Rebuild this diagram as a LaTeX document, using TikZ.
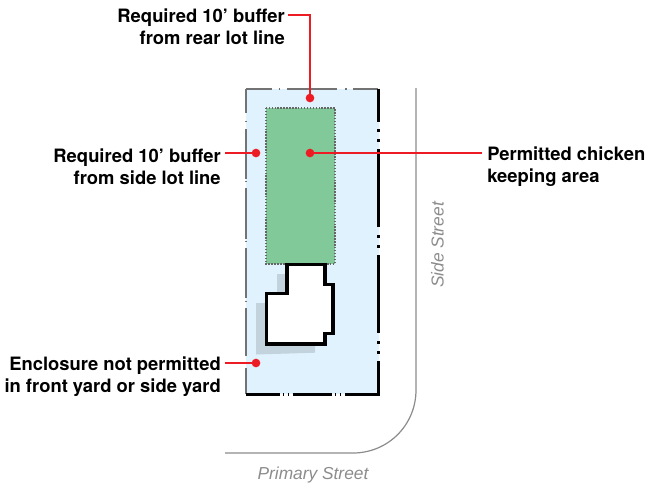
\documentclass[tikz,border=0pt]{standalone}
\usepackage{fontspec}
\setmainfont{TeX Gyre Heros}
\newfontfamily\streetfont{Liberation Sans}
\definecolor{lotblue}{HTML}{E0F2FD}
\definecolor{keepgreen}{HTML}{82C99A}
\definecolor{shadowgray}{HTML}{C3D3DD}
\definecolor{callred}{HTML}{ED1C24}
\definecolor{roadgray}{HTML}{8C8C8C}
\tikzset{
  x=0.75pt,y=-0.75pt,
  calloutline/.style={draw=callred,line width=1.5pt},
  calltext/.style={font=\bfseries\fontsize{13.8}{16.5}\selectfont,align=right,inner sep=0pt},
  leftlabel/.style={calltext,anchor=east,align=right},
  dotmark/.style={circle,fill=callred,minimum size=6.5pt,inner sep=0pt},
  streetlabel/.style={font=\streetfont\itshape\fontsize{13}{15}\selectfont,text=roadgray,inner sep=0pt},
  lotblack/.style={draw=black,line width=2.2pt},
  lotthin/.style={draw=black!55,line width=0.9pt},
  gapfill/.style={fill=white,draw=none},
}
\begin{document}
\begin{tikzpicture}
\useasboundingbox (0,0) rectangle (651,487);
% lot
\fill[lotblue] (246,89) rectangle (378.5,394);
% top edge, with its gaps and ticks
\draw[lotthin] (246,89) -- (272,89);
\draw[lotthin] (278.5,89) -- (280,89);
\draw[lotthin] (287,89) -- (337,89);
\draw[lotthin] (345,89) -- (346.5,89);
\draw[lotthin] (353,89) -- (378,89);
% left edge, with its gaps and ticks
\draw[lotthin] (246,88.5) -- (246,113);
\draw[lotthin] (246,120.5) -- (246,122);
\draw[lotthin] (246,129) -- (246,179);
\draw[lotthin] (246,180.5) -- (246,182);
\draw[lotthin] (246,188) -- (246,239);
\draw[lotthin] (246,240.5) -- (246,242);
\draw[lotthin] (246,248) -- (246,298);
\draw[lotthin] (246,300.5) -- (246,302);
\draw[lotthin] (246,308) -- (246,356);
\draw[lotthin] (246,368) -- (246,394);
% right and bottom edges
\draw[lotblack] (378.5,88.5) -- (378.5,122);
\draw[lotblack] (378.5,129) -- (378.5,132);
\draw[lotblack] (378.5,139) -- (378.5,142);
\draw[lotblack] (378.5,149) -- (378.5,227);
\draw[lotblack] (378.5,235) -- (378.5,238);
\draw[lotblack] (378.5,245) -- (378.5,248);
\draw[lotblack] (378.5,255) -- (378.5,333);
\draw[lotblack] (378.5,341) -- (378.5,344);
\draw[lotblack] (378.5,351) -- (378.5,354);
\draw[lotblack] (378.5,361) -- (378.5,395);
\draw[lotblack] (246,394.5) -- (279.5,394.5);
\draw[lotblack] (283,394.5) -- (284,394.5);
\draw[lotblack] (288,394.5) -- (289,394.5);
\draw[lotblack] (292.5,394.5) -- (332,394.5);
\draw[lotblack] (335,394.5) -- (336,394.5);
\draw[lotblack] (340,394.5) -- (341,394.5);
\draw[lotblack] (345,394.5) -- (380,394.5);
% keeping area
\fill[keepgreen] (266,108) rectangle (335,264);
\draw[draw=black!60,line width=1.1pt,dash pattern=on 1.1pt off 1.1pt] (266,108) rectangle (335,264);
% road
\draw[roadgray,line width=0.9pt] (416,88) -- (416,390) .. controls (416,425) and (388,453) .. (353,453) -- (225,453);
% shadow
\fill[shadowgray] (277,274) -- (287,274) -- (287,303) -- (315,303) -- (315,352.7) -- (256,354.5) -- (256,303) -- (277,303) -- cycle;
% house
\draw[draw=black,fill=white,line width=2.3pt,miter limit=4] (287,264.5) -- (325,264.5) -- (325,284.5) -- (333,284.5) -- (333,333.5) -- (325,333.5) -- (325,344) -- (266.5,344) -- (266.5,293.5) -- (287,293.5) -- cycle;
% callouts
\node[dotmark] (rearDot) at (310,98) {};
\node[dotmark] (sideDot) at (256,153) {};
\node[dotmark] (areaDot) at (310,153) {};
\node[dotmark] (yardDot) at (256,363) {};
\node[leftlabel] (rearText) at (285,27) {Required 10’ buffer\\from rear lot line};
\node[leftlabel] (sideText) at (221,167) {Required 10’ buffer\\from side lot line};
\node[leftlabel] (yardText) at (221,376.5) {Enclosure not permitted\\in front yard or side yard};
\node[calltext,anchor=west,align=left] (areaText) at (487,167) {Permitted chicken\\keeping area};
\coordinate (rearElbow) at (310,15);
\coordinate (rearStart) at (288,15);
\coordinate (sideStart) at (225,153);
\coordinate (yardStart) at (225,363);
\coordinate (areaEnd) at (482,153);
\draw[calloutline] (rearStart) -- (rearElbow) -- (rearDot.center);
\draw[calloutline] (sideStart) -- (sideDot.center);
\draw[calloutline] (yardStart) -- (yardDot.center);
\draw[calloutline] (areaDot.center) -- (areaEnd);
% streets
\node[streetlabel,rotate=90] (side) at (437.5,245) {Side Street};
\node[streetlabel] (primary) at (313,475) {Primary Street};
\end{tikzpicture}
\end{document}
